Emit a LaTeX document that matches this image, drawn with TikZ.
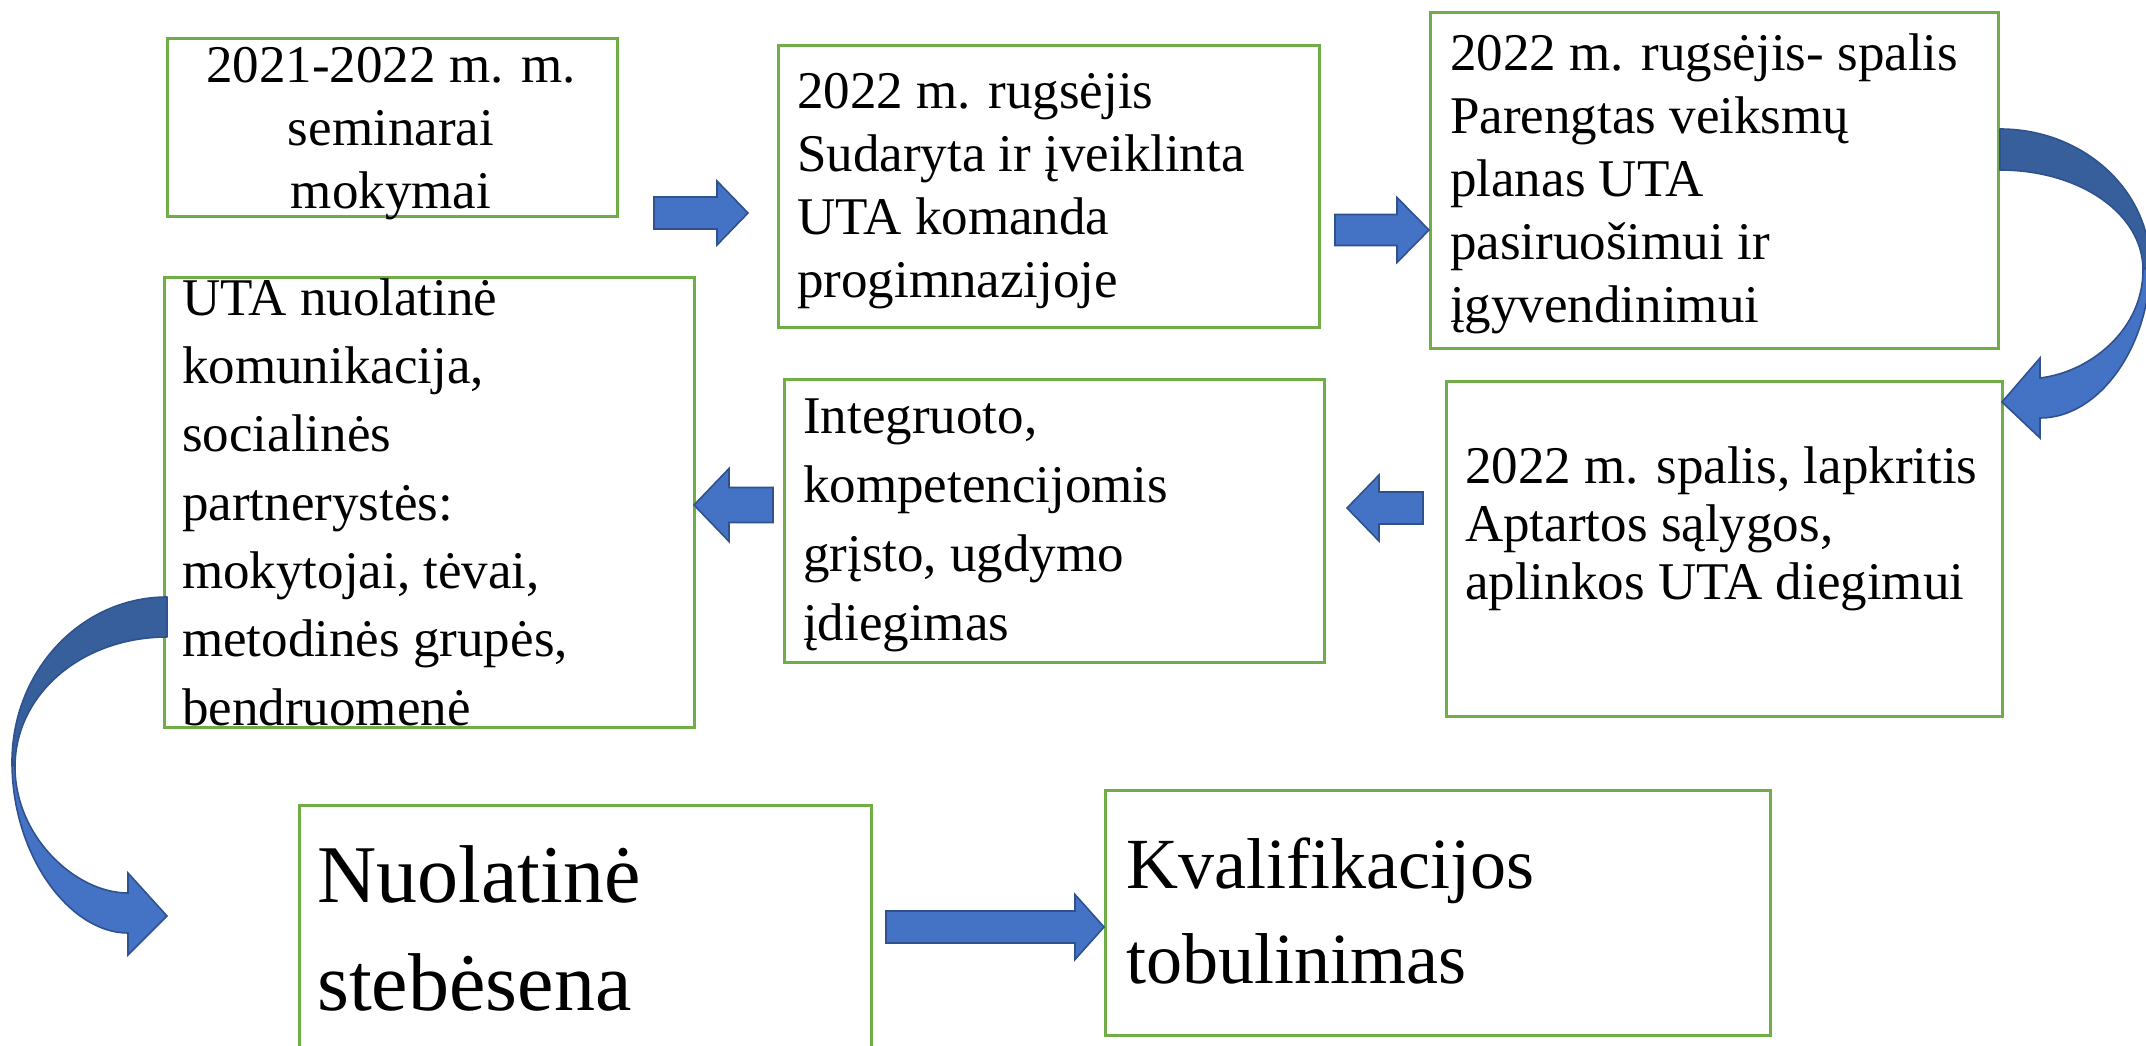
\documentclass[tikz,border=0pt]{standalone}
\usepackage{fontspec}
\setmainfont{Liberation Serif}
\definecolor{boxgreen}{HTML}{70AD47}
\definecolor{arrowblue}{HTML}{4472C4}
\definecolor{arrowdark}{HTML}{365F9B}
\definecolor{arrowedge}{HTML}{2F528F}
\newcommand{\blkarrow}[6]{%
  \filldraw[blockarrow] (#1,#4-#5) -- (#2,#4-#5) -- (#2,#4-#6) -- (#3,#4)
    -- (#2,#4+#6) -- (#2,#4+#5) -- (#1,#4+#5) -- cycle;}
\begin{document}
\begin{tikzpicture}[x=1pt,y=-1pt,
  box/.style={draw=boxgreen, line width=2.5pt, rectangle, inner sep=0pt, anchor=north west},
  txt/.style={inner sep=0pt, align=left, anchor=base west, font=\fontsize{53}{63}\selectfont},
  blockarrow/.style={fill=arrowblue, draw=arrowedge, line width=1.6pt, line join=miter},
  backarrow/.style={fill=arrowdark, draw=arrowedge, line width=1.6pt, line join=round}]
\useasboundingbox (0,0) rectangle (2146,1045);
% boxes
\node[box, minimum width=450pt, minimum height=178pt] (b1) at (166,37) {};
\node[box, minimum width=541pt, minimum height=282pt] (b2) at (777,44) {};
\node[box, minimum width=568pt, minimum height=336pt] (b3) at (1429,11) {};
\node[box, minimum width=530pt, minimum height=450pt] (b4) at (163,276) {};
\node[box, minimum width=540pt, minimum height=283pt] (b5) at (783,378) {};
\node[box, minimum width=556pt, minimum height=335pt] (b6) at (1445,380) {};
\node[box, minimum width=572pt, minimum height=260pt] (b7) at (298,804) {};
\node[box, minimum width=665pt, minimum height=245pt] (b8) at (1104,789) {};
% straight block arrows
\blkarrow{654}{717}{748}{213}{16}{32}
\blkarrow{1335}{1397}{1429}{230}{15.5}{32.5}
\blkarrow{773}{729}{694}{505}{17.5}{36.5}
\blkarrow{1423}{1379}{1347}{508}{16}{33}
\blkarrow{886}{1075}{1104}{927}{16}{32.5}
% curved arrow on the right (b3 -> b6)
\filldraw[backarrow] (2000,129) .. controls (2083,129) and (2150,190) .. (2150,265)
  -- (2143,270) .. controls (2143,213) and (2079,170) .. (2000,170) -- cycle;
\filldraw[blockarrow] (2150,265) .. controls (2150,345) and (2100,418) .. (2040,418)
  -- (2040,438) -- (2002,402) -- (2040,358) -- (2040,378)
  .. controls (2090,372) and (2143,330) .. (2143,270) -- cycle;
% curved arrow on the left (b4 -> b7)
\filldraw[backarrow] (167,597) .. controls (81,597) and (12,671) .. (12,762)
  -- (15,767) .. controls (15,694) and (82,637) .. (167,637) -- cycle;
\filldraw[blockarrow] (12,762) .. controls (12,856) and (70,933) .. (128,933)
  -- (128,955) -- (167,916) -- (128,873) -- (128,893)
  .. controls (75,893) and (15,836) .. (15,767) -- cycle;
% texts (anchored at the baseline of their last line)
\node[txt, align=center, anchor=base] (t1) at (391,208) {2021-2022 m. m.\\seminarai\\mokymai};
\node[txt] (t2) at (797,297) {2022 m. rugsėjis\\Sudaryta ir įveiklinta\\UTA komanda\\progimnazijoje};
\node[txt] (t3) at (1450,322) {2022 m. rugsėjis- spalis\\Parengtas veiksmų\\planas UTA\\pasiruošimui ir\\įgyvendinimui};
\node[txt, font=\fontsize{53}{68.3}\selectfont] (t4) at (182,725) {UTA nuolatinė\\komunikacija,\\socialinės\\partnerystės:\\mokytojai, tėvai,\\metodinės grupės,\\bendruomenė};
\node[txt, font=\fontsize{53}{69}\selectfont] (t5) at (803,640) {Integruoto,\\kompetencijomis\\grįsto, ugdymo\\įdiegimas};
\node[txt, font=\fontsize{53}{58}\selectfont] (t6) at (1465,599) {2022 m. spalis, lapkritis\\Aptartos sąlygos,\\aplinkos UTA diegimui};
\node[txt, font=\fontsize{82}{108}\selectfont] (t7) at (317,1010) {Nuolatinė\\stebėsena};
\node[txt, font=\fontsize{72}{95}\selectfont] (t8) at (1126,983) {Kvalifikacijos\\tobulinimas};
\end{tikzpicture}
\end{document}
